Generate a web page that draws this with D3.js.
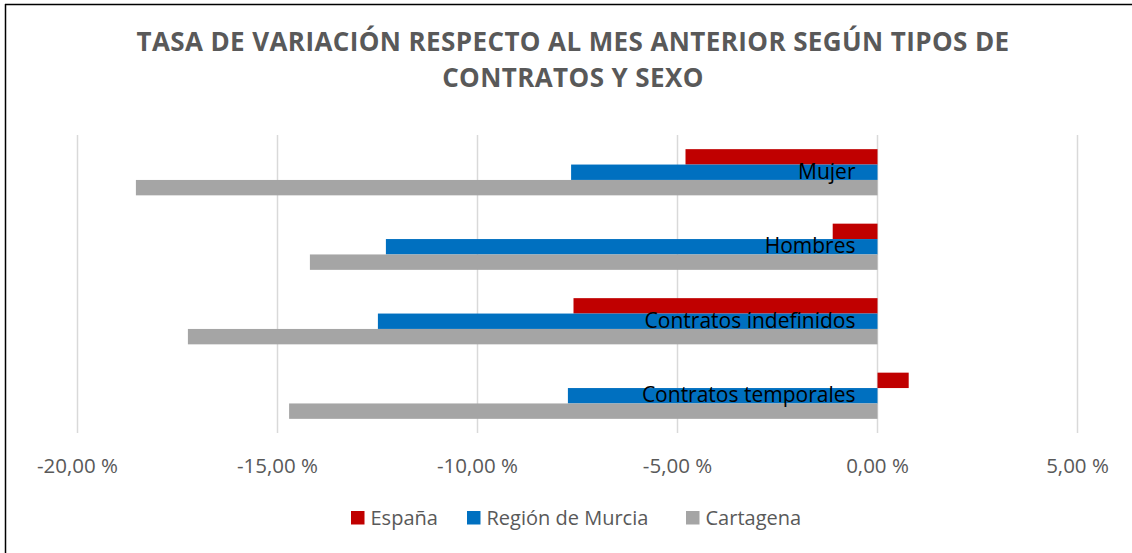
<!DOCTYPE html>
<html>
<head>
<meta charset="utf-8">
<script src="https://cdn.jsdelivr.net/npm/d3@7"></script>
<style>
  body { margin: 0; background: #fff; }
  svg { display: block; font-family: "Open Sans", sans-serif; }
</style>
</head>
<body>
<svg id="chart" width="1132" height="553"></svg>
<script>
// data
var categories = ["Mujer", "Hombres", "Contratos indefinidos", "Contratos temporales"];
var seriesNames = ["España", "Región de Murcia", "Cartagena"];
var espana    = [-4.80, -1.12, -7.60, 0.78];
var murcia    = [-7.66, -12.29, -12.49, -7.74];
var cartagena = [-18.54, -14.19, -17.24, -14.71];
var tickValues = [-20, -15, -10, -5, 0, 5];
var titleLines = ["TASA DE VARIACIÓN RESPECTO AL MES ANTERIOR SEGÚN TIPOS DE", "CONTRATOS Y SEXO"];

var colors = ["#c00000", "#0070c0", "#a5a5a5"];
var allSeries = [espana, murcia, cartagena];

var svg = d3.select("#chart");

// frame (only top and left edges show)
svg.append("line").attr("x1", 5).attr("x2", 1132).attr("y1", 4.5).attr("y2", 4.5)
  .attr("stroke", "#000").attr("stroke-width", 1.5);
svg.append("line").attr("x1", 5.5).attr("x2", 5.5).attr("y1", 4).attr("y2", 553)
  .attr("stroke", "#000").attr("stroke-width", 1.5);

// title
svg.append("g").selectAll("text")
  .data(titleLines)
  .enter().append("text")
    .attr("x", 573)
    .attr("y", function(d, i) { return 51 + i * 36 })
    .attr("text-anchor", "middle")
    .style("font-size", "26px")
    .style("letter-spacing", "0.4px")
    .style("font-weight", "bold")
    .style("fill", "#595959")
    .text(function(d) { return d });

var x = d3.scaleLinear().domain([-20, 5]).range([77.5, 1077.5]);
var y = d3.scaleBand().domain(categories).range([135, 433]).paddingInner(0.38).paddingOuter(0.19);
var ySub = d3.scaleBand().domain(seriesNames).range([0, y.bandwidth()]);

// grid
svg.append("g").selectAll("line")
  .data(tickValues)
  .enter().append("line")
    .attr("x1", function(d) { return x(d) })
    .attr("x2", function(d) { return x(d) })
    .attr("y1", 135).attr("y2", 433)
    .attr("stroke", "#d9d9d9").attr("stroke-width", 1.5);

// bars
var rows = [];
categories.forEach(function(c, i) {
  seriesNames.forEach(function(s, j) {
    rows.push({cat: c, series: s, value: allSeries[j][i], color: colors[j]});
  });
});

svg.append("g").selectAll("rect")
  .data(rows)
  .enter().append("rect")
    .attr("x", function(d) { return x(Math.min(0, d.value)) })
    .attr("y", function(d) { return y(d.cat) + ySub(d.series) })
    .attr("width", function(d) { return Math.abs(x(d.value) - x(0)) })
    .attr("height", ySub.bandwidth())
    .style("fill", function(d) { return d.color });

// category labels, sitting at the zero line
svg.append("g").selectAll("text")
  .data(categories)
  .enter().append("text")
    .attr("x", x(0) - 22)
    .attr("y", function(d) { return y(d) + ySub("Región de Murcia") + ySub.bandwidth() - 1 })
    .attr("text-anchor", "end")
    .style("font-size", "21px")
    .style("fill", "#000")
    .text(function(d) { return d });

// x axis labels
var fmt = function(d) { return d3.format(".2f")(d).replace(".", ",").replace("−", "-") + " %" };
svg.append("g").selectAll("text")
  .data(tickValues)
  .enter().append("text")
    .attr("x", function(d) { return x(d) })
    .attr("y", 473)
    .attr("text-anchor", "middle")
    .style("font-size", "20.5px")
    .style("fill", "#595959")
    .text(fmt);

// legend
var legendX = [351, 467, 686];
var lg = svg.append("g").selectAll("g")
  .data(seriesNames)
  .enter().append("g")
    .attr("transform", function(d, i) { return "translate(" + legendX[i] + ",511)" });
lg.append("rect").attr("width", 13.5).attr("height", 13.5)
  .style("fill", function(d, i) { return colors[i] });
lg.append("text").attr("x", 19.5).attr("y", 13.5)
  .style("font-size", "20px")
  .style("fill", "#595959")
  .text(function(d) { return d });
</script>
</body>
</html>
